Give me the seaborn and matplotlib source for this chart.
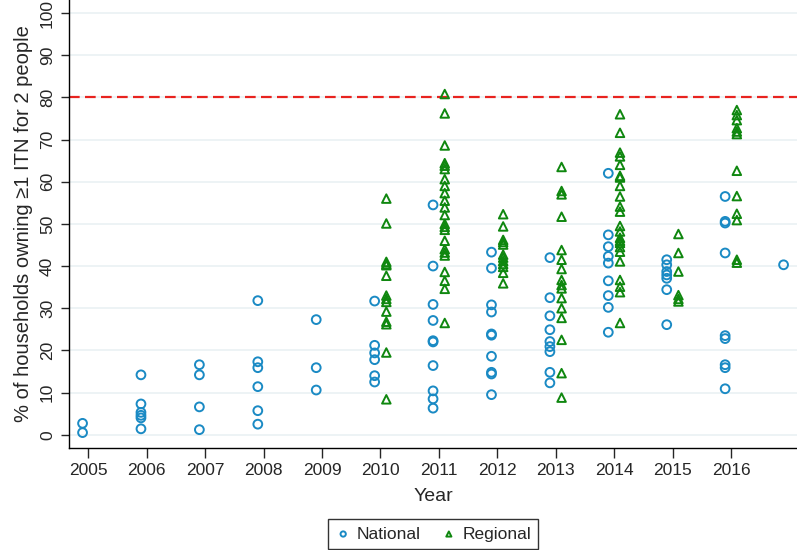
import matplotlib
matplotlib.use("Agg")
import matplotlib.pyplot as plt
import seaborn as sns
import pandas as pd

# --- Data ---
national = {
    2005: [2.7, 0.5],
    2006: [14.2, 7.3, 5.3, 4.6, 4.0, 1.4],
    2007: [16.6, 14.2, 6.6, 1.2],
    2008: [31.8, 17.3, 15.9, 11.4, 5.7, 2.5],
    2009: [27.3, 15.9, 10.6],
    2010: [31.7, 21.2, 19.4, 17.8, 14.0, 12.5],
    2011: [54.5, 40.0, 30.9, 27.1, 22.3, 22.0, 16.4, 10.4, 8.5, 6.3],
    2012: [43.3, 39.5, 30.8, 29.1, 23.9, 23.6, 18.6, 14.8, 14.4, 9.5],
    2013: [42.0, 32.5, 28.2, 24.9, 22.1, 20.9, 19.7, 14.8, 12.3],
    2014: [62.0, 47.4, 44.6, 42.3, 40.7, 36.5, 33.0, 30.2, 24.3],
    2015: [41.5, 40.3, 38.7, 37.9, 37.1, 34.4, 26.1],
    2016: [56.5, 50.6, 50.2, 43.1, 23.5, 22.8, 16.6, 15.9, 10.9],
    2017: [40.3],
}

regional = {
    2010: [56.0, 50.1, 41.0, 40.5, 40.2, 37.7, 33.0, 32.2, 31.5, 29.2, 26.8, 26.2, 19.5, 8.4],
    2011: [80.8, 76.2, 68.6, 64.4, 63.8, 63.0, 60.6, 59.0, 57.3, 55.5, 53.9, 52.1, 50.0,
           49.3, 48.6, 46.0, 44.0, 43.2, 42.5, 38.6, 36.5, 34.6, 26.5],
    2012: [52.3, 49.4, 46.2, 45.7, 45.1, 42.7, 42.0, 41.2, 40.5, 39.8, 38.4, 35.9],
    2013: [63.5, 57.8, 57.0, 51.7, 43.8, 41.5, 39.3, 36.7, 35.5, 34.7, 32.4, 30.0, 27.7,
           22.5, 14.6, 8.8],
    2014: [76.0, 71.6, 66.9, 66.0, 64.0, 61.4, 61.0, 59.0, 56.5, 54.1, 52.9, 49.5, 48.2,
           46.7, 46.0, 45.5, 44.5, 43.4, 41.1, 36.7, 35.1, 33.8, 26.5],
    2015: [47.6, 43.1, 38.7, 33.1, 32.2, 31.6],
    2016: [77.0, 75.8, 74.6, 72.7, 71.9, 71.3, 62.6, 56.6, 52.4, 50.9, 41.5, 40.8],
}

target = 80
year_ticks = list(range(2005, 2017))
pct_ticks = list(range(0, 101, 10))

NAT_COLOR = "#1a8ac4"
REG_COLOR = "#0f870f"
GRID_COLOR = "#e8f0f2"


def to_frame(d, shift):
    rows = [(yr + shift, v) for yr, vals in d.items() for v in vals]
    return pd.DataFrame(rows, columns=["year", "pct"])


df_nat = to_frame(national, -0.1)
df_reg = to_frame(regional, 0.1)

sns.set_style("white")
plt.rcParams["font.family"] = ["Liberation Sans", "DejaVu Sans"]

fig = plt.figure(figsize=(7.97, 5.50), dpi=100)
ax = fig.add_axes([69 / 797, 1 - 448 / 550, 1 - 69 / 797, 448 / 550])

for v in pct_ticks:
    ax.axhline(v, color=GRID_COLOR, lw=1.1, zorder=0)

ax.axhline(target, color="#e8231f", lw=1.6, dashes=(4.8, 2.4), zorder=1)

sns.scatterplot(data=df_nat, x="year", y="pct", ax=ax, marker="o", s=40,
                color=NAT_COLOR, facecolor="none", edgecolor=NAT_COLOR,
                linewidth=1.4, label="National", zorder=3)
sns.scatterplot(data=df_reg, x="year", y="pct", ax=ax, marker="^", s=38,
                color=REG_COLOR, facecolor="none", edgecolor=REG_COLOR,
                linewidth=1.4, label="Regional", zorder=3)

ax.set_xlim(2004.668, 2017.13)
ax.set_ylim(-3.15, 103.1)
ax.set_xticks(year_ticks)
ax.set_yticks(pct_ticks)

for side in ["top", "right"]:
    ax.spines[side].set_visible(False)
for side in ["left", "bottom"]:
    ax.spines[side].set_color("black")
    ax.spines[side].set_linewidth(1.0)

ax.tick_params(axis="x", direction="out", length=7, width=1, pad=4, labelsize=12.5, bottom=True)
ax.tick_params(axis="y", direction="out", length=6, width=1, pad=4, labelsize=12.5, left=True,
               labelrotation=90)
for lab in ax.get_yticklabels():
    lab.set_va("center")

ax.set_xlabel("Year", fontsize=14, labelpad=7)
ax.set_ylabel("% of households owning \u22651 ITN for 2 people", fontsize=14.5)
ax.yaxis.set_label_coords(-0.05, 0.5)

ax.get_legend().remove()
handles, labels = ax.get_legend_handles_labels()
leg = fig.legend(handles, labels, loc="center", bbox_to_anchor=(433 / 797, 1 - 534 / 550),
                 ncol=2, fontsize=12.5, frameon=True, fancybox=False, markerscale=0.6,
                 handletextpad=0.3, columnspacing=1.1, borderpad=0.4, handlelength=1.0)
leg.get_frame().set_edgecolor("black")
leg.get_frame().set_linewidth(1.0)

fig.savefig("out.png", dpi=100)
